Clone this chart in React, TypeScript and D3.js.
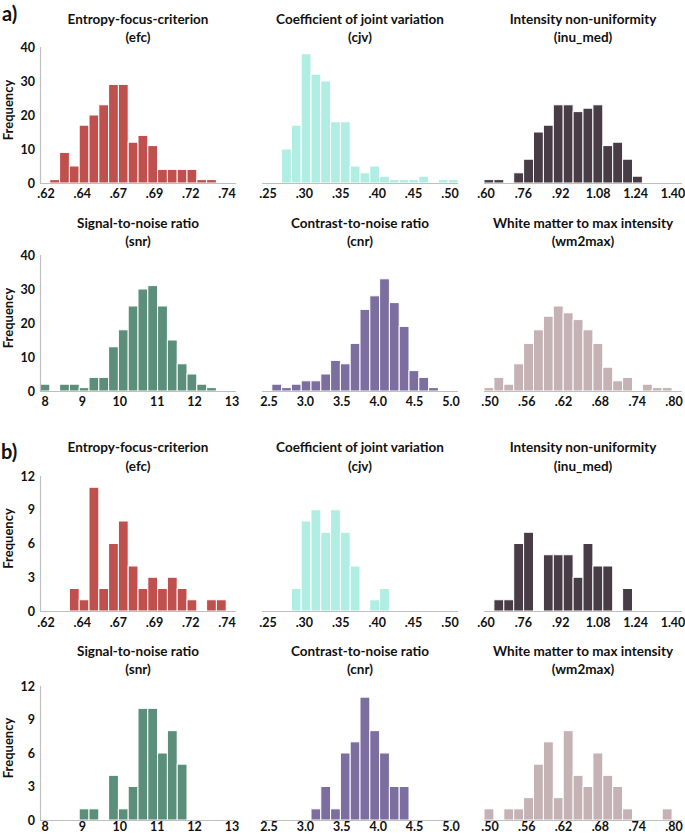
import React from "react";
import * as d3 from "d3";

// ---- data (bin counts, 20 equal bins per panel) ----
const efcA = [0, 1, 9, 5, 17, 20, 23, 29, 29, 12, 14, 11, 4, 4, 4, 4, 1, 1, 0, 0];
const cjvA = [0, 0, 10, 17, 38, 32, 30, 18, 18, 5, 3, 5, 2, 1, 1, 1, 2, 0, 1, 1];
const inuA = [1, 1, 0, 3, 7, 15, 17, 23, 23, 21, 22, 23, 11, 12, 7, 2, 0, 0, 0, 0];
const snrA = [2, 0, 2, 2, 1, 4, 4, 13, 18, 25, 30, 31, 25, 15, 8, 5, 2, 1, 0, 0];
const cnrA = [0, 2, 1, 2, 3, 3, 5, 9, 8, 14, 24, 28, 33, 26, 19, 6, 4, 1, 0, 0];
const wmA = [1, 4, 2, 8, 14, 18, 22, 25, 23, 21, 18, 14, 7, 3, 4, 0, 2, 1, 1, 0];

const efcB = [0, 0, 0, 2, 1, 11, 2, 6, 8, 4, 2, 3, 2, 3, 2, 1, 0, 1, 1, 0];
const cjvB = [0, 0, 0, 2, 8, 9, 7, 9, 7, 4, 0, 1, 2, 0, 0, 0, 0, 0, 0, 0];
const inuB = [0, 1, 1, 6, 7, 0, 5, 5, 5, 3, 6, 4, 4, 0, 2, 0, 0, 0, 0, 0];
const snrB = [0, 0, 0, 0, 1, 1, 0, 4, 1, 3, 10, 10, 6, 8, 5, 0, 0, 0, 0, 0];
const cnrB = [0, 0, 0, 0, 0, 1, 3, 1, 6, 7, 11, 8, 6, 3, 3, 0, 0, 0, 0, 0];
const wmB = [1, 0, 1, 1, 2, 5, 7, 2, 8, 4, 3, 6, 4, 3, 1, 0, 0, 0, 1, 0];

// tick labels
const efcTicks = [".62", ".64", ".67", ".69", ".72", ".74"];
const cjvTicks = [".25", ".30", ".35", ".40", ".45", ".50"];
const inuTicks = [".60", ".76", ".92", "1.08", "1.24", "1.40"];
const snrTicks = ["8", "9", "10", "11", "12", "13"];
const cnrTicks = ["2.5", "3.0", "3.5", "4.0", "4.5", "5.0"];
const wmTicks = [".50", ".56", ".62", ".68", ".74", ".80"];

const yTicksA = [0, 10, 20, 30, 40];
const yTicksB = [0, 3, 6, 9, 12];

// titles
const titlesTop = ["Entropy-focus-criterion", "Coefficient of joint variation", "Intensity non-uniformity"];
const abbrTop = ["(efc)", "(cjv)", "(inu_med)"];
const titlesBottom = ["Signal-to-noise ratio", "Contrast-to-noise ratio", "White matter to max intensity"];
const abbrBottom = ["(snr)", "(cnr)", "(wm2max)"];

// colours
const colors = ["#c0504d", "#b0ede3", "#483c46", "#5b8f7c", "#7c6fa0", "#c4b2b4"];

// ---- layout ----
const W = 685;
const H = 834;
const colX: [number, number][] = [
  [40, 236],
  [262, 458],
  [484, 682],
];
const rowY: [number, number][] = [
  [47, 183],
  [255, 391],
  [476, 611],
  [686, 820],
];
const titleY: [number, number][] = [
  [24, 42],
  [228, 246],
  [452, 471],
  [656, 674],
];
const tickDy = [15, 15, 15.5, 11];

const FONT = "Lato, 'Open Sans', sans-serif";
const AXIS = "#bfbfbf";

type PanelDef = {
  data: number[];
  ticks: string[];
  color: string;
  title: string;
  abbr: string;
  col: number;
  row: number;
  yTicks: number[];
  pad: [number, number];
};

const panels: PanelDef[] = [
  { data: efcA, ticks: efcTicks, color: colors[0], title: titlesTop[0], abbr: abbrTop[0], col: 0, row: 0, yTicks: yTicksA, pad: [6, 9] },
  { data: cjvA, ticks: cjvTicks, color: colors[1], title: titlesTop[1], abbr: abbrTop[1], col: 1, row: 0, yTicks: yTicksA, pad: [6, 8] },
  { data: inuA, ticks: inuTicks, color: colors[2], title: titlesTop[2], abbr: abbrTop[2], col: 2, row: 0, yTicks: yTicksA, pad: [2, 9] },
  { data: snrA, ticks: snrTicks, color: colors[3], title: titlesBottom[0], abbr: abbrBottom[0], col: 0, row: 1, yTicks: yTicksA, pad: [5, 4] },
  { data: cnrA, ticks: cnrTicks, color: colors[4], title: titlesBottom[1], abbr: abbrBottom[1], col: 1, row: 1, yTicks: yTicksA, pad: [7, 7] },
  { data: wmA, ticks: wmTicks, color: colors[5], title: titlesBottom[2], abbr: abbrBottom[2], col: 2, row: 1, yTicks: yTicksA, pad: [6, 8] },
  { data: efcB, ticks: efcTicks, color: colors[0], title: titlesTop[0], abbr: abbrTop[0], col: 0, row: 2, yTicks: yTicksB, pad: [6, 9] },
  { data: cjvB, ticks: cjvTicks, color: colors[1], title: titlesTop[1], abbr: abbrTop[1], col: 1, row: 2, yTicks: yTicksB, pad: [6, 8] },
  { data: inuB, ticks: inuTicks, color: colors[2], title: titlesTop[2], abbr: abbrTop[2], col: 2, row: 2, yTicks: yTicksB, pad: [2, 9] },
  { data: snrB, ticks: snrTicks, color: colors[3], title: titlesBottom[0], abbr: abbrBottom[0], col: 0, row: 3, yTicks: yTicksB, pad: [5, 4] },
  { data: cnrB, ticks: cnrTicks, color: colors[4], title: titlesBottom[1], abbr: abbrBottom[1], col: 1, row: 3, yTicks: yTicksB, pad: [7, 7] },
  { data: wmB, ticks: wmTicks, color: colors[5], title: titlesBottom[2], abbr: abbrBottom[2], col: 2, row: 3, yTicks: yTicksB, pad: [6, 8] },
];

function Panel({ p }: { p: PanelDef }) {
  const [x0, x1] = colX[p.col];
  const [top, base] = rowY[p.row];
  const [t1, t2] = titleY[p.row];
  const n = p.data.length;
  const x = d3.scaleLinear().domain([0, n]).range([x0, x1]);
  const y = d3
    .scaleLinear()
    .domain([0, d3.max(p.yTicks) as number])
    .range([base, top]);
  const tx = d3
    .scaleLinear()
    .domain([0, p.ticks.length - 1])
    .range([x0 + p.pad[0], x1 - p.pad[1]]);
  const cx = (x0 + x1) / 2;
  return (
    <g>
      <text x={cx} y={t1} textAnchor="middle" fontSize={13.5} fontWeight={700} fill="#111">
        {p.title}
      </text>
      <text x={cx} y={t2} textAnchor="middle" fontSize={13.5} fontWeight={700} fill="#111">
        {p.abbr}
      </text>
      {p.data.map((v, i) =>
        v > 0 ? (
          <rect
            key={i}
            x={x(i)}
            y={y(v)}
            width={x(i + 1) - x(i)}
            height={base - y(v)}
            fill={p.color}
            stroke="#ffffff"
            strokeWidth={1}
          />
        ) : null
      )}
      <line x1={x0} x2={x1} y1={base + 0.5} y2={base + 0.5} stroke={AXIS} strokeWidth={1.2} />
      {p.col === 0 && (
        <>
          <line x1={x0 + 0.5} x2={x0 + 0.5} y1={top} y2={base} stroke={AXIS} strokeWidth={1.2} />
          {p.yTicks.map((t) => (
            <text key={t} x={x0 - 5} y={y(t) + 4.5} textAnchor="end" fontSize={12.5} fontWeight={700} fill="#111">
              {t}
            </text>
          ))}
          <text
            transform={`translate(13,${(top + base) / 2 - 5}) rotate(-90)`}
            textAnchor="middle"
            fontSize={13}
            fontWeight={700}
            fill="#111"
          >
            Frequency
          </text>
        </>
      )}
      {p.ticks.map((t, i) => (
        <text
          key={t}
          x={tx(i)}
          y={base + tickDy[p.row]}
          textAnchor="middle"
          fontSize={12.5}
          fontWeight={700}
          fill="#111"
        >
          {t}
        </text>
      ))}
    </g>
  );
}

export default function App() {
  return (
    <svg
      width={W}
      height={H}
      style={{ position: "absolute", left: 0, top: 0, background: "#fff", fontFamily: FONT }}
    >
      <rect width={W} height={H} fill="#fff" />
      <text x={2} y={20.5} fontSize={20} fontWeight={700} fill="#111">
        a)
      </text>
      <text x={1} y={459} fontSize={20} fontWeight={700} fill="#111">
        b)
      </text>
      {panels.map((p, i) => (
        <Panel key={i} p={p} />
      ))}
    </svg>
  );
}
